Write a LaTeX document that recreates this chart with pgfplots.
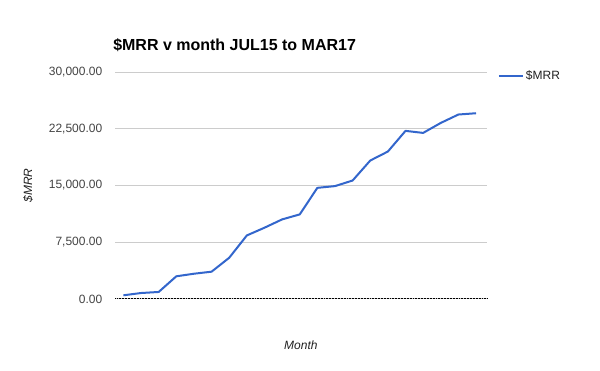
\documentclass[border=0pt]{standalone}
\usepackage{pgfplots}
\pgfplotsset{compat=1.18}
\usepackage{fontspec}
\setmainfont{Liberation Sans}
\definecolor{mrrblue}{HTML}{3366CC}
\definecolor{gridgray}{HTML}{CCCCCC}
\definecolor{ticktext}{HTML}{444444}
\definecolor{labeltext}{HTML}{222222}
\pgfplotstableread{
m v
1 490
2 790
3 930
4 3000
5 3340
6 3610
7 5450
8 8400
9 9420
10 10520
11 11180
12 14690
13 14920
14 15660
15 18300
16 19490
17 22220
18 21950
19 23270
20 24380
21 24550
}\mrrdata
\begin{document}
\begin{tikzpicture}
\useasboundingbox[fill=white] (0pt,0pt) rectangle (450pt,278.25pt);
\node[anchor=base west, inner sep=0pt, font=\fontsize{12}{14}\selectfont\bfseries] at (84.75pt,240pt) {\$MRR v month JUL15 to MAR17};
\begin{axis}[
  at={(86.625pt,54pt)}, anchor=south west,
  scale only axis,
  width=278.6pt, height=170.25pt,
  xmin=0.55, xmax=21.62,
  ymin=0, ymax=30000,
  ytick={0,7500,15000,22500,30000},
  xtick=\empty,
  axis line style={draw=none},
  major tick length=0pt,
  ymajorgrids,
  major grid style={gridgray, line width=0.75pt},
  extra y ticks={0},
  extra y tick labels={},
  extra y tick style={grid=major, major grid style={black, line width=0.75pt, dash pattern=on 0.75pt off 0.4pt}},
  scaled y ticks=false,
  /pgf/number format/fixed,
  /pgf/number format/fixed zerofill,
  /pgf/number format/precision=2,
  /pgf/number format/1000 sep={,},
  /pgf/number format/assume math mode=true,
  every y tick label/.append style={font=\fontsize{9}{11}\selectfont, text=ticktext, anchor=east, inner sep=0pt, xshift=-9.75pt},
  ylabel={\$MRR},
  xlabel={Month},
  every axis y label/.style={at={(axis description cs:-0.2355,0.5)}, rotate=90, anchor=center, font=\fontsize{9}{11}\selectfont\itshape, text=labeltext},
  every axis x label/.style={at={(axis description cs:0.499,-0.2026)}, anchor=center, font=\fontsize{9}{11}\selectfont\itshape, text=labeltext},
  legend style={draw=none, fill=none, at={(axis description cs:1.0296,0.982)}, anchor=west, inner sep=0pt, outer sep=0pt, font=\fontsize{9}{11}\selectfont, text=labeltext, nodes={inner sep=1.5pt}},
  legend image code/.code={\draw[#1] (0pt,0pt) -- (18pt,0pt);},
  clip=false,
]
\addplot[mrrblue, line width=1.5pt, line join=round] table[x=m, y=v] {\mrrdata};
\addlegendentry{\$MRR}
\end{axis}
\end{tikzpicture}
\end{document}
